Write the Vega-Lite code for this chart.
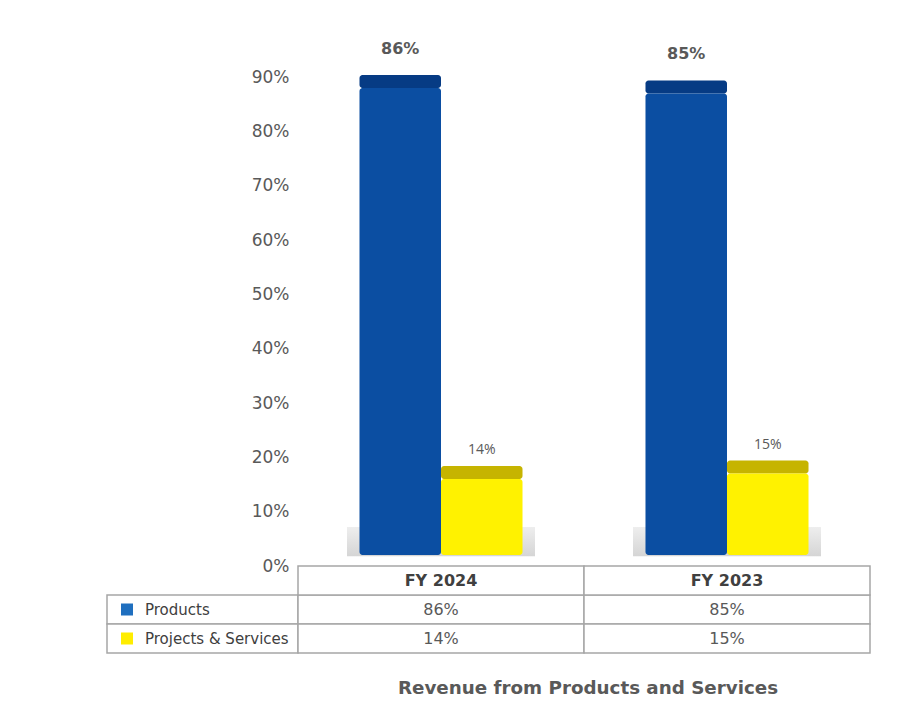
{
  "$schema": "https://vega.github.io/schema/vega-lite/v6.json",
  "padding": {"left": 106, "top": 23, "right": 20, "bottom": 5},
  "background": "white",
  "datasets": {
    "rev": [
      {"year": "FY 2024", "series": "Products", "value": 0.86},
      {"year": "FY 2024", "series": "Projects & Services", "value": 0.14},
      {"year": "FY 2023", "series": "Products", "value": 0.85},
      {"year": "FY 2023", "series": "Projects & Services", "value": 0.15}
    ]
  },
  "columns": 2,
  "spacing": 0,
  "align": "each",
  "bounds": "flush",
  "concat": [
    {
      "width": 191,
      "height": 543,
      "data": {"values": [{"k": 1}]},
      "mark": {"type": "text"},
      "encoding": {"text": {"value": ""}}
    },
    {
      "width": 572,
      "height": 543,
      "data": {"name": "rev"},
      "encoding": {
        "x": {"field": "year", "type": "nominal", "sort": ["FY 2024", "FY 2023"], "scale": {"paddingInner": 0.43, "paddingOuter": 0.215}, "axis": null}
      },
      "layer": [
        {
          "transform": [{"filter": "datum.series === 'Products'"}],
          "mark": {"type": "bar", "width": 188, "color": {"gradient": "linear", "x1": 0, "x2": 0, "y1": 0, "y2": 1, "stops": [{"offset": 0, "color": "#eeeeee"}, {"offset": 1, "color": "#d5d5d5"}]}},
          "encoding": {
            "y": {"datum": 0.072, "type": "quantitative", "scale": {"domain": [0, 1], "nice": false, "zero": true}},
            "y2": {"datum": 0.018}
          }
        },
        {
          "mark": {"type": "bar", "cornerRadius": 3, "yOffset": -24, "y2Offset": -11},
          "encoding": {
            "xOffset": {"field": "series", "type": "nominal", "sort": ["Products", "Projects & Services"], "scale": {"paddingInner": 0, "paddingOuter": 0}},
            "y": {"field": "value", "type": "quantitative", "scale": {"domain": [0, 1], "nice": false},
              "axis": {"values": [0, 0.1, 0.2, 0.3, 0.4, 0.5, 0.6, 0.7, 0.8, 0.9], "format": ".0%", "title": null, "domain": false, "ticks": false, "grid": false, "labelPadding": 9, "labelFontSize": 17, "labelColor": "#595959", "labelFont": "DejaVu Sans"}},
            "y2": {"field": "value"},
            "color": {"condition": {"test": "datum.series === 'Products'", "value": "#063b84"}, "value": "#c6b400"}
          }
        },
        {
          "mark": {"type": "bar", "cornerRadius": 3, "yOffset": -11, "y2Offset": -11},
          "encoding": {
            "xOffset": {"field": "series", "type": "nominal", "sort": ["Products", "Projects & Services"]},
            "y": {"field": "value", "type": "quantitative", "stack": null},
            "y2": {"datum": 0},
            "color": {"condition": {"test": "datum.series === 'Products'", "value": "#0b4ea2"}, "value": "#fff200"}
          }
        },
        {
          "transform": [{"filter": "datum.series === 'Products'"}],
          "mark": {"type": "text", "dy": -50, "fontSize": 16, "fontWeight": "bold", "color": "#595959", "font": "DejaVu Sans"},
          "encoding": {
            "xOffset": {"field": "series", "type": "nominal", "sort": ["Products", "Projects & Services"]},
            "y": {"field": "value", "type": "quantitative"},
            "text": {"field": "value", "type": "quantitative", "format": ".0%"}
          }
        },
        {
          "transform": [{"filter": "datum.series === 'Projects & Services'"}],
          "mark": {"type": "text", "dy": -40, "fontSize": 14, "color": "#595959", "font": "Open Sans"},
          "encoding": {
            "xOffset": {"field": "series", "type": "nominal", "sort": ["Products", "Projects & Services"]},
            "y": {"field": "value", "type": "quantitative"},
            "text": {"field": "value", "type": "quantitative", "format": ".0%"}
          }
        }
      ]
    },
    {
      "width": 191,
      "height": 87,
      "data": {"name": "rev"},
      "transform": [{"filter": "datum.year === 'FY 2024'"}],
      "encoding": {
        "y": {"field": "series", "type": "nominal", "scale": {"domain": ["header", "Products", "Projects & Services"], "paddingInner": 0, "paddingOuter": 0}, "axis": null}
      },
      "layer": [
        {
          "mark": {"type": "rect", "fill": "white", "stroke": "#a6a6a6", "strokeWidth": 1.5}
        },
        {
          "mark": {"type": "point", "shape": "square", "size": 144, "filled": true, "opacity": 1, "xOffset": -75.5},
          "encoding": {
            "color": {"condition": {"test": "datum.series === 'Products'", "value": "#1f6fbf"}, "value": "#ffed00"}
          }
        },
        {
          "mark": {"type": "text", "align": "left", "dx": -57.5, "fontSize": 15, "color": "#404040", "font": "DejaVu Sans"},
          "encoding": {"text": {"field": "series"}}
        }
      ]
    },
    {
      "width": 572,
      "height": 87,
      "title": {"text": "Revenue from Products and Services", "orient": "bottom", "offset": 26, "fontSize": 18.3, "font": "DejaVu Sans", "fontWeight": "bold", "color": "#595959", "dx": 4},
      "data": {"name": "rev"},
      "encoding": {
        "x": {"field": "year", "type": "nominal", "sort": ["FY 2024", "FY 2023"], "scale": {"paddingInner": 0, "paddingOuter": 0}, "axis": null}
      },
      "layer": [
        {
          "mark": {"type": "rect", "fill": "white", "stroke": "#a6a6a6", "strokeWidth": 1.5},
          "encoding": {
            "y": {"field": "series", "type": "nominal", "scale": {"domain": ["header", "Products", "Projects & Services"], "paddingInner": 0, "paddingOuter": 0}, "axis": null}
          }
        },
        {
          "transform": [{"filter": "datum.series === 'Products'"}],
          "mark": {"type": "rect", "fill": "white", "stroke": "#a6a6a6", "strokeWidth": 1.5},
          "encoding": {"y": {"datum": "header", "type": "nominal"}}
        },
        {
          "transform": [{"filter": "datum.series === 'Products'"}],
          "mark": {"type": "text", "fontSize": 16, "fontWeight": "bold", "color": "#404040", "font": "DejaVu Sans"},
          "encoding": {"y": {"datum": "header", "type": "nominal"}, "text": {"field": "year"}}
        },
        {
          "mark": {"type": "text", "fontSize": 16, "color": "#595959", "font": "DejaVu Sans"},
          "encoding": {
            "y": {"field": "series", "type": "nominal"},
            "text": {"field": "value", "type": "quantitative", "format": ".0%"}
          }
        }
      ]
    }
  ],
  "config": {
    "view": {"stroke": null},
    "font": "DejaVu Sans"
  }
}
